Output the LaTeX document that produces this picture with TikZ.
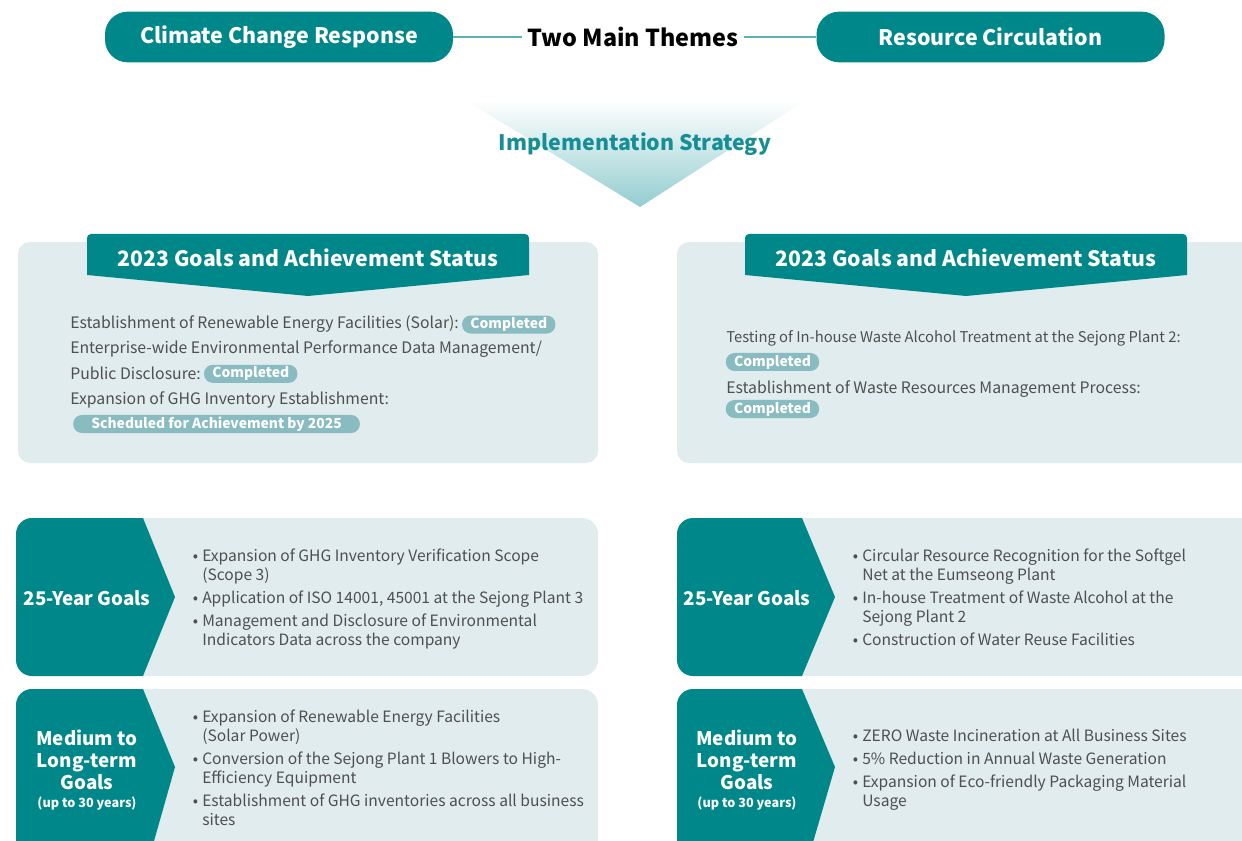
\documentclass[tikz,border=0pt]{standalone}
\usepackage{fontspec}
\setmainfont{Noto Sans CJK KR}
\usetikzlibrary{positioning}
\definecolor{themeteal}{HTML}{00878A}
\definecolor{panelgray}{HTML}{E1ECEE}
\definecolor{badgeteal}{HTML}{89BCC0}
\definecolor{bodygray}{HTML}{4F4F4F}
\definecolor{linkteal}{HTML}{5AB4B7}
\definecolor{trifill}{HTML}{93CDD0}
\definecolor{strategyteal}{HTML}{178E95}

\begin{document}
\begin{tikzpicture}[x=0.75pt,y=-0.75pt,
    pill/.style={fill=themeteal,rounded corners=17pt,minimum width=261pt,minimum height=38pt,text=white,font=\bfseries\fontsize{16}{19}\selectfont},
    heading/.style={font=\bfseries\fontsize{16}{19}\selectfont,inner sep=4pt},
    banner text/.style={text=white,font=\bfseries\fontsize{15.9}{18}\selectfont},
    status/.style={anchor=base west,inner sep=0pt,text=bodygray,font=\fontsize{11.85}{14}\selectfont},
    badge/.style={fill=badgeteal,rounded corners=6.5pt,text=white,minimum height=13.5pt,minimum width=70pt,inner sep=0pt,font=\bfseries\fontsize{10.4}{12}\selectfont},
    goal/.style={text=white,align=center,font=\bfseries\fontsize{14.1}{16.5}\selectfont},
    item/.style={anchor=base west,align=left,inner sep=0pt,text=bodygray,font=\fontsize{11.7}{14.25}\selectfont}]

  \clip (0,0) rectangle (1242,841);
  \fill[white] (0,0) rectangle (1242,841);

  % two main themes
  \node[pill] (climate) at (279,37) {Climate Change Response};
  \node[pill] (resource) at (990.5,37) {Resource Circulation};
  \node[heading,font=\bfseries\fontsize{17.5}{20}\selectfont] (themes) at (633,37) {Two Main Themes};
  \draw[linkteal,line width=0.8pt] (climate) -- (themes);
  \draw[linkteal,line width=0.8pt] (themes) -- (resource);

  \shade[top color=white,bottom color=trifill] (465,100) -- (806,100) -- (640,207) -- cycle;
  \node[heading,text=strategyteal] (strategy) at (635,144) {Implementation Strategy};

  % 2023 status, left
  \fill[panelgray,rounded corners=9pt] (18,242) rectangle (598,463);
  \fill[themeteal] (87,275) [rounded corners=3pt] -- (87,234) -- (529,234) [sharp corners] -- (529,275) -- (308,296) -- cycle;
  \node[banner text] (statusL) at (308,258) {2023 Goals and Achievement Status};

  \node[status] (sl1) at (70,329) {Establishment of Renewable Energy Facilities (Solar):};
  \node[badge,right=2pt of sl1] (bl1) {Completed};
  \node[status] (sl2) at (70,354) {Enterprise-wide Environmental Performance Data Management/};
  \node[status] (sl3) at (70,380) {Public Disclosure:};
  \node[badge,right=2pt of sl3] (bl3) {Completed};
  \node[status] (sl4) at (70,405) {Expansion of GHG Inventory Establishment:};
  \node[badge,minimum width=215pt] (bl4) at (216.5,424) {Scheduled for Achievement by 2025};

  % 2023 status, right
  \fill[panelgray,rounded corners=9pt] (677,242) rectangle (1262,463);
  \fill[themeteal] (745,275) [rounded corners=3pt] -- (745,234) -- (1187,234) [sharp corners] -- (1187,275) -- (966,296) -- cycle;
  \node[banner text] (statusR) at (966,258) {2023 Goals and Achievement Status};

  \node[status,font=\fontsize{11.1}{14}\selectfont] (sr1) at (726,343) {Testing of In-house Waste Alcohol Treatment at the Sejong Plant 2:};
  \node[badge] (br1) at (772.5,362) {Completed};
  \node[status] (sr2) at (726,394) {Establishment of Waste Resources Management Process:};
  \node[badge] (br2) at (772.5,409) {Completed};

  % goal boxes
  \begin{scope}
    \clip[rounded corners=12pt] (16,518) rectangle (598,676);
    \fill[panelgray] (16,518) rectangle (598,676);
    \fill[themeteal] (16,518) -- (143,518) -- (175,597) -- (143,676) -- (16,676) -- cycle;
  \end{scope}
  \begin{scope}
    \clip[rounded corners=12pt] (16,689) rectangle (598,880);
    \fill[panelgray] (16,689) rectangle (598,880);
    \fill[themeteal] (16,689) -- (143,689) -- (175,767) -- (143,880) -- (16,880) -- cycle;
  \end{scope}
  \begin{scope}
    \clip[rounded corners=12pt] (677,518) rectangle (1262,676);
    \fill[panelgray] (677,518) rectangle (1262,676);
    \fill[themeteal] (677,518) -- (802,518) -- (835,597) -- (802,676) -- (677,676) -- cycle;
  \end{scope}
  \begin{scope}
    \clip[rounded corners=12pt] (677,689) rectangle (1262,880);
    \fill[panelgray] (677,689) rectangle (1262,880);
    \fill[themeteal] (677,689) -- (802,689) -- (835,767) -- (802,880) -- (677,880) -- cycle;
  \end{scope}

  \node[goal] (shortL) at (87,598) {25-Year Goals};
  \node[goal] (longL) at (87,770) {Medium to\\Long-term\\Goals\\[-3pt]{\fontsize{9.5}{11}\selectfont(up to 30 years)}};
  \node[goal] (shortR) at (747,598) {25-Year Goals};
  \node[goal] (longR) at (747,770) {Medium to\\Long-term\\Goals\\[-3pt]{\fontsize{9.5}{11}\selectfont(up to 30 years)}};

  \node[item] (a1) at (202,580) {\llap{\textbullet\hspace{3pt}}Expansion of GHG Inventory Verification Scope\\(Scope 3)};
  \node[item] (a2) at (202,603) {\llap{\textbullet\hspace{3pt}}Application of ISO 14001, 45001 at the Sejong Plant 3};
  \node[item] (a3) at (202,645) {\llap{\textbullet\hspace{3pt}}Management and Disclosure of Environmental\\Indicators Data across the company};

  \node[item] (b1) at (202,741) {\llap{\textbullet\hspace{3pt}}Expansion of Renewable Energy Facilities\\(Solar Power)};
  \node[item] (b2) at (202,783) {\llap{\textbullet\hspace{3pt}}Conversion of the Sejong Plant 1 Blowers to High-\\Efficiency Equipment};
  \node[item] (b3) at (202,825) {\llap{\textbullet\hspace{3pt}}Establishment of GHG inventories across all business\\sites};

  \node[item] (c1) at (862,580) {\llap{\textbullet\hspace{3pt}}Circular Resource Recognition for the Softgel\\Net at the Eumseong Plant};
  \node[item] (c2) at (862,622) {\llap{\textbullet\hspace{3pt}}In-house Treatment of Waste Alcohol at the\\Sejong Plant 2};
  \node[item] (c3) at (862,645) {\llap{\textbullet\hspace{3pt}}Construction of Water Reuse Facilities};

  \node[item] (d1) at (862,741) {\llap{\textbullet\hspace{3pt}}ZERO Waste Incineration at All Business Sites};
  \node[item] (d2) at (862,764) {\llap{\textbullet\hspace{3pt}}5\% Reduction in Annual Waste Generation};
  \node[item] (d3) at (862,806) {\llap{\textbullet\hspace{3pt}}Expansion of Eco-friendly Packaging Material\\Usage};
\end{tikzpicture}
\end{document}
